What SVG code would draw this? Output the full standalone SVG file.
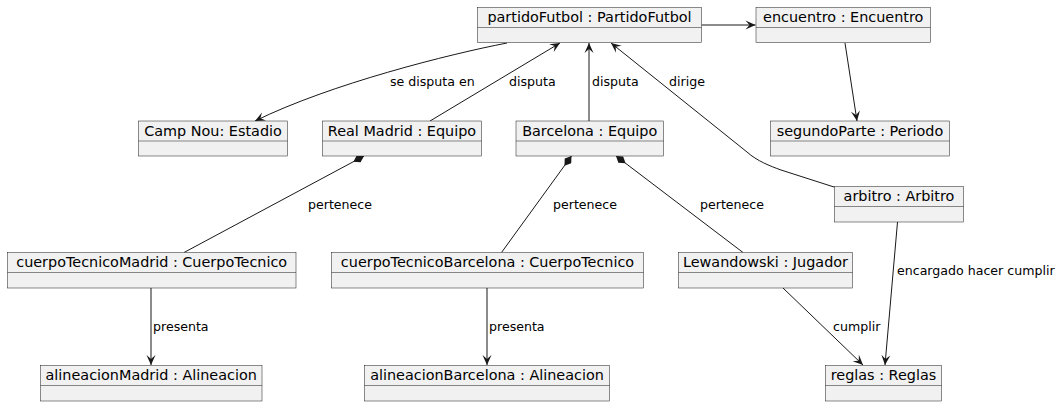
<svg xmlns="http://www.w3.org/2000/svg" width="1061" height="406" viewBox="0 0 1061 406">
<style>
.box{fill:#F1F1F1;stroke:#181818;stroke-width:0.5}
.t{font-family:"DejaVu Sans",sans-serif;font-size:14.4px;fill:#000;text-anchor:middle}
.l{font-family:"DejaVu Sans",sans-serif;font-size:12.6px;fill:#000}
.c{fill:none;stroke:#181818;stroke-width:1}
.a{marker-end:url(#arr)}
.d{marker-start:url(#dia)}
</style>
<defs>
<marker id="arr" markerUnits="userSpaceOnUse" viewBox="-11 -6 12 12" refX="0" refY="0" markerWidth="12" markerHeight="12" orient="auto">
<path d="M0,0 L-10,-4.5 L-6,0 L-10,4.5 Z" fill="#181818"/>
</marker>
<marker id="dia" markerUnits="userSpaceOnUse" viewBox="-1 -6 14 12" refX="0" refY="0" markerWidth="14" markerHeight="12" orient="auto">
<path d="M0,0 L6,-4 L12,0 L6,4 Z" fill="#181818"/>
</marker>
</defs>
<rect width="1061" height="406" fill="#FFFFFF"/>
<g id="connectors">
<path class="c a" d="M701.5,25 L755.5,25"/>
<path class="c a" d="M845,43 L857,121"/>
<path class="c a" d="M507,43 C450,54 330,84 255,121"/>
<text class="l" x="390" y="86">se disputa en</text>
<path class="c a" d="M430,121 L560,43"/>
<text class="l" x="509" y="86">disputa</text>
<path class="c a" d="M589,121 L589,43"/>
<text class="l" x="592" y="86">disputa</text>
<path class="c a" d="M834,187 L781,170 C770,166 757,161 747,152 L611,43"/>
<text class="l" x="669" y="86">dirige</text>
<path class="c d" d="M364,156 L184,252.5"/>
<text class="l" x="308" y="209">pertenece</text>
<path class="c d" d="M571.5,156 L501.5,252.5"/>
<text class="l" x="553" y="209">pertenece</text>
<path class="c d" d="M616,156 L743,252.5"/>
<text class="l" x="700" y="209">pertenece</text>
<path class="c a" d="M151,288 L151,365"/>
<text class="l" x="153" y="331">presenta</text>
<path class="c a" d="M487,288 L487,365"/>
<text class="l" x="489" y="331">presenta</text>
<path class="c a" d="M783,288 L863,365"/>
<text class="l" x="833" y="331">cumplir</text>
<path class="c a" d="M897.5,222 L885,365"/>
<text class="l" x="897" y="275">encargado hacer cumplir</text>
</g>
<g id="partidoFutbol">
<rect class="box" x="477.5" y="7.5" width="224" height="35"/>
<line class="box" x1="477.5" y1="27.5" x2="701.5" y2="27.5"/>
<text class="t" x="589.5" y="22">partidoFutbol : PartidoFutbol</text>
</g>
<g id="encuentro">
<rect class="box" x="756" y="7.5" width="174.5" height="35"/>
<line class="box" x1="756" y1="27.5" x2="930.5" y2="27.5"/>
<text class="t" x="843.2" y="22">encuentro : Encuentro</text>
</g>
<g id="campNou">
<rect class="box" x="138.5" y="121" width="149" height="35"/>
<line class="box" x1="138.5" y1="141" x2="287.5" y2="141"/>
<text class="t" x="213" y="135.5">Camp Nou: Estadio</text>
</g>
<g id="realMadrid">
<rect class="box" x="322.5" y="121" width="159" height="35"/>
<line class="box" x1="322.5" y1="141" x2="481.5" y2="141"/>
<text class="t" x="402" y="135.5">Real Madrid : Equipo</text>
</g>
<g id="barcelona">
<rect class="box" x="516" y="121" width="147.5" height="35"/>
<line class="box" x1="516" y1="141" x2="663.5" y2="141"/>
<text class="t" x="589.7" y="135.5">Barcelona : Equipo</text>
</g>
<g id="segundoParte">
<rect class="box" x="770.5" y="121" width="179" height="35"/>
<line class="box" x1="770.5" y1="141" x2="949.5" y2="141"/>
<text class="t" x="860" y="135.5">segundoParte : Periodo</text>
</g>
<g id="arbitro">
<rect class="box" x="834.5" y="186.5" width="129" height="35.5"/>
<line class="box" x1="834.5" y1="206.5" x2="963.5" y2="206.5"/>
<text class="t" x="899" y="201">arbitro : Arbitro</text>
</g>
<g id="cuerpoTecnicoMadrid">
<rect class="box" x="7.5" y="252.5" width="288.5" height="35.5"/>
<line class="box" x1="7.5" y1="272.5" x2="296" y2="272.5"/>
<text class="t" x="151.7" y="267">cuerpoTecnicoMadrid : CuerpoTecnico</text>
</g>
<g id="cuerpoTecnicoBarcelona">
<rect class="box" x="331.5" y="252.5" width="312" height="35.5"/>
<line class="box" x1="331.5" y1="272.5" x2="643.5" y2="272.5"/>
<text class="t" x="487.5" y="267">cuerpoTecnicoBarcelona : CuerpoTecnico</text>
</g>
<g id="lewandowski">
<rect class="box" x="678.5" y="252.5" width="174" height="35.5"/>
<line class="box" x1="678.5" y1="272.5" x2="852.5" y2="272.5"/>
<text class="t" x="765.5" y="267">Lewandowski : Jugador</text>
</g>
<g id="alineacionMadrid">
<rect class="box" x="40.5" y="365.5" width="221.5" height="35.5"/>
<line class="box" x1="40.5" y1="385.5" x2="262" y2="385.5"/>
<text class="t" x="151.2" y="380">alineacionMadrid : Alineacion</text>
</g>
<g id="alineacionBarcelona">
<rect class="box" x="364.5" y="365.5" width="245" height="35.5"/>
<line class="box" x1="364.5" y1="385.5" x2="609.5" y2="385.5"/>
<text class="t" x="487" y="380">alineacionBarcelona : Alineacion</text>
</g>
<g id="reglas">
<rect class="box" x="825.5" y="365.5" width="116" height="35.5"/>
<line class="box" x1="825.5" y1="385.5" x2="941.5" y2="385.5"/>
<text class="t" x="883.5" y="380">reglas : Reglas</text>
</g>
</svg>
